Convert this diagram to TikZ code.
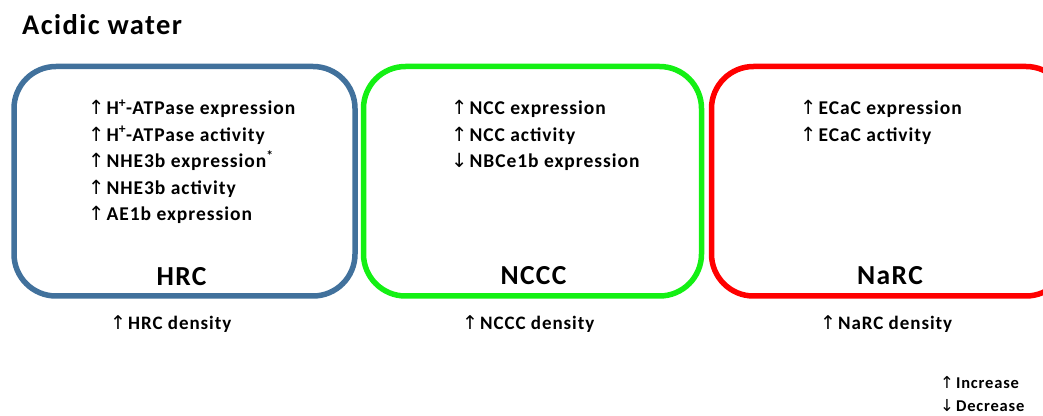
\documentclass[tikz,border=0pt]{standalone}
\usepackage{fontspec}
\setmainfont{Carlito}
\newfontfamily\arrowfont{DejaVu Sans}
\newfontfamily\widefont[LetterSpace=5]{Carlito}
\newcommand{\uparr}{{\arrowfont\mdseries\char"2191}\hspace{2pt}}
\newcommand{\downarr}{{\arrowfont\mdseries\char"2193}\hspace{2pt}}
\definecolor{hrcblue}{RGB}{65,113,156}
\definecolor{ncccgreen}{RGB}{20,240,20}
\definecolor{narcred}{RGB}{255,0,0}
\tikzset{
  cellbox/.style={draw=#1, line width=5.5pt, rounded corners=42pt,
    minimum height=229.5pt, inner sep=0pt},
  item/.style={anchor=base west, inner sep=0pt,
    font=\widefont\fontsize{19.5}{22}\selectfont\bfseries},
  celllabel/.style={anchor=base, inner sep=0pt,
    font=\widefont\fontsize{27.5}{30}\selectfont\bfseries},
  density/.style={anchor=base west, inner sep=0pt,
    font=\widefont\fontsize{19}{22}\selectfont\bfseries},
  legend/.style={anchor=base west, inner sep=0pt,
    font=\widefont\fontsize{16.5}{20}\selectfont\bfseries}
}
\begin{document}
\begin{tikzpicture}[x=1pt,y=1pt]
  \useasboundingbox (0,0) rectangle (1043,415);
  \clip (0,0) rectangle (1043,415);
  \node[anchor=base west, inner sep=0pt, font=\widefont\fontsize{28.5}{32}\selectfont\bfseries] (title) at (22,380) {Acidic water};

  % cells
  \node[cellbox=hrcblue, minimum width=341pt] (hrcbox) at (184.5,233.75) {};
  \node[cellbox=ncccgreen, minimum width=338pt] (ncccbox) at (532.5,233.75) {};
  \node[cellbox=narcred, minimum width=356.5pt] (narcbox) at (889.75,233.75) {};

  \node[celllabel] (hrc) at (181.5,129) {HRC};
  \node[celllabel] (nccc) at (533.5,130) {NCCC};
  \node[celllabel] (narc) at (890,130) {NaRC};

  % HRC
  \node[item] (hrc1) at (88,300) {\uparr H\textsuperscript{+}-ATPase expression};
  \node[item] (hrc2) at (88,273.5) {\uparr H\textsuperscript{+}-ATPase activity};
  \node[item] (hrc3) at (88,247) {\uparr NHE3b expression\textsuperscript{*}};
  \node[item] (hrc4) at (88,220.5) {\uparr NHE3b activity};
  \node[item] (hrc5) at (88,194) {\uparr AE1b expression};

  % NCCC
  \node[item] (nccc1) at (451,300) {\uparr NCC expression};
  \node[item] (nccc2) at (451,273.5) {\uparr NCC activity};
  \node[item] (nccc3) at (451,247) {\downarr NBCe1b expression};

  % NaRC
  \node[item] (narc1) at (800,300) {\uparr ECaC expression};
  \node[item] (narc2) at (800,273.5) {\uparr ECaC activity};

  % densities
  \node[density] (hrcdens) at (110,86) {\uparr HRC density};
  \node[density] (ncccdens) at (462,86) {\uparr NCCC density};
  \node[density] (narcdens) at (820,86) {\uparr NaRC density};

  % legend
  \node[legend] (inc) at (940,27) {\uparr Increase};
  \node[legend] (dec) at (940,4) {\downarr Decrease};
\end{tikzpicture}
\end{document}
